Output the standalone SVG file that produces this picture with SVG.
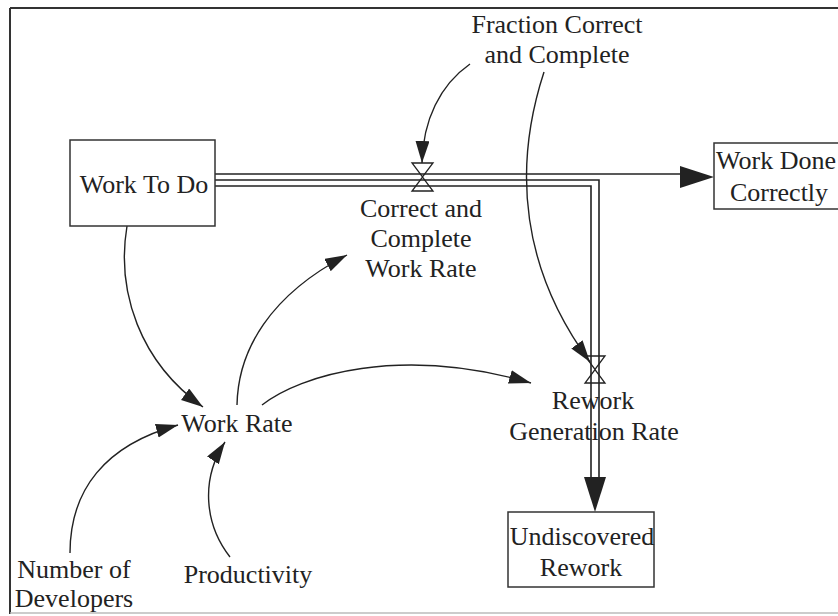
<svg xmlns="http://www.w3.org/2000/svg" width="838" height="616" viewBox="0 0 838 616">
<defs>
<style>
text{font-family:'Liberation Serif','Times New Roman',serif;font-size:26px;fill:#222;text-anchor:middle}
.box{fill:none;stroke:#333;stroke-width:1.5}
.pipe{fill:none;stroke:#222;stroke-width:1.6}
.link{fill:none;stroke:#222;stroke-width:1.4}
.valve{fill:none;stroke:#222;stroke-width:1.3}
.head{fill:#222;stroke:none}
</style>
<marker id="ah" markerUnits="userSpaceOnUse" markerWidth="24" markerHeight="16" refX="22" refY="7" orient="auto">
<path d="M0,0 L22,7 L0,14 Z" fill="#222"/>
</marker>
</defs>
<rect width="838" height="616" fill="#fff"/>
<g id="frame">
<line x1="10" y1="8" x2="838" y2="8" stroke="#333" stroke-width="2"/>
<line x1="10" y1="8" x2="10" y2="614" stroke="#333" stroke-width="2"/>
<line x1="10" y1="613" x2="838" y2="613" stroke="#bbb" stroke-width="1.5"/>
</g>
<g id="connectors">
<path class="pipe" d="M215,174 H681"/>
<path class="pipe" d="M215,180 H599 V478"/>
<path class="pipe" d="M215,186 H591 V478"/>
<path class="head" d="M680,166 L714,177 L680,188 Z"/>
<path class="head" d="M584,477 L606,477 L595,512 Z"/>
<path class="link" d="M127,226 C116,292 140,362 203,407" marker-end="url(#ah)"/>
<path class="link" d="M237,405 C238,350 270,295 347,255" marker-end="url(#ah)"/>
<path class="link" d="M262,405 C300,375 400,345 531,383" marker-end="url(#ah)"/>
<path class="link" d="M70,553 C70,490 105,445 178,425" marker-end="url(#ah)"/>
<path class="link" d="M230,557 C205,525 200,480 225,442" marker-end="url(#ah)"/>
<path class="link" d="M470,64 C440,85 423,120 422,163" marker-end="url(#ah)"/>
<path class="link" d="M544,72 C512,170 522,270 590,362" marker-end="url(#ah)"/>
</g>
<g font-family="Liberation Serif, serif">
<g id="work-to-do">
<rect class="box" x="70" y="140" width="145" height="86"/>
<text x="144" y="193">Work To Do</text>
</g>
<g id="work-done-correctly">
<rect class="box" x="714" y="143" width="132" height="66"/>
<text x="776" y="169">Work Done</text>
<text x="779" y="201">Correctly</text>
</g>
<g id="undiscovered-rework">
<rect class="box" x="508" y="512" width="146" height="75"/>
<text x="582" y="545">Undiscovered</text>
<text x="581" y="576">Rework</text>
</g>
<g id="correct-and-complete-work-rate">
<path class="valve" d="M412,163 H433 L422.5,177 Z M412,191 H433 L422.5,177 Z"/>
<text x="421" y="217">Correct and</text>
<text x="421" y="247">Complete</text>
<text x="421" y="277">Work Rate</text>
</g>
<g id="rework-generation-rate">
<path class="valve" d="M585,356 H605 L595,369.5 Z M585,383 H605 L595,369.5 Z"/>
<text x="593" y="409">Rework</text>
<text x="594" y="440">Generation Rate</text>
</g>
<g id="fraction-correct-and-complete">
<text x="557" y="33">Fraction Correct</text>
<text x="557" y="63">and Complete</text>
</g>
<g id="work-rate">
<text x="237" y="432">Work Rate</text>
</g>
<g id="number-of-developers">
<text x="74" y="578">Number of</text>
<text x="74" y="607">Developers</text>
</g>
<g id="productivity">
<text x="248" y="583">Productivity</text>
</g>
</g>
</svg>
